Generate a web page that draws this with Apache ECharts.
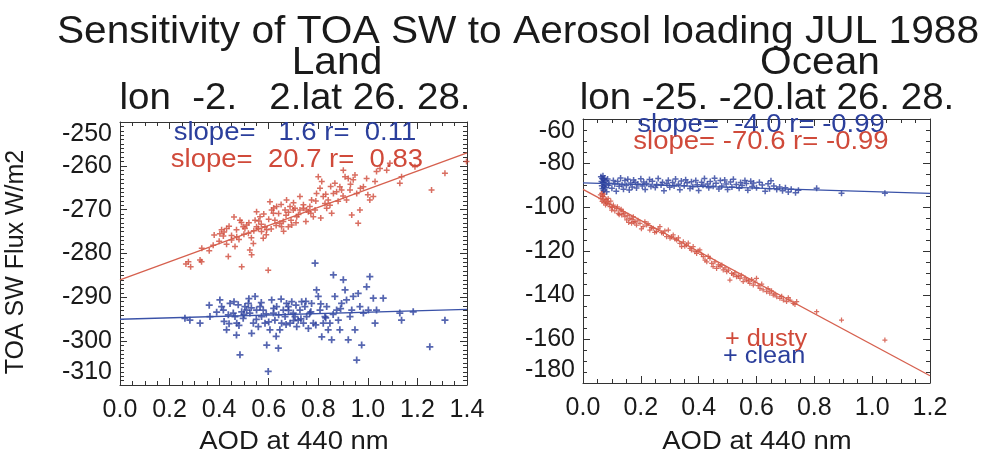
<!DOCTYPE html>
<html>
<head>
<meta charset="utf-8">
<script src="https://cdn.jsdelivr.net/npm/echarts@6/dist/echarts.min.js"></script>
<style>
  html, body { margin: 0; padding: 0; background: #ffffff; }
  #chart { width: 1001px; height: 455px; }
</style>
</head>
<body>
<div id="chart"></div>
<script>
// ---- Land box: lon -2..2, lat 26..28  (AOD at 440 nm, TOA SW flux W/m2)
const landDusty = [
  [0.266,-282.4],[0.285,-283.0],[0.323,-281.5],[0.329,-281.9],[0.276,-281.9],[0.376,-278.1],
  [0.403,-275.5],[0.410,-274.6],[0.417,-276.0],[0.430,-274.3],[0.437,-280.7],[0.450,-276.9],
  [0.464,-278.4],[0.471,-276.2],[0.484,-272.4],[0.491,-283.0],[0.497,-273.9],[0.504,-274.3],
  [0.511,-273.5],[0.518,-275.4],[0.524,-279.2],[0.531,-280.3],[0.538,-277.7],[0.545,-272.4],
  [0.551,-270.5],[0.551,-273.9],[0.558,-274.3],[0.565,-271.6],[0.571,-275.0],[0.578,-276.5],
  [0.585,-273.9],[0.592,-274.6],[0.598,-283.8],[0.605,-268.2],[0.612,-270.1],[0.619,-270.8],
  [0.625,-272.4],[0.632,-269.3],[0.645,-273.1],[0.652,-273.9],[0.659,-272.7],[0.666,-270.1],
  [0.672,-267.8],[0.679,-273.9],[0.686,-269.3],[0.693,-273.5],[0.699,-270.1],[0.706,-269.7],
  [0.713,-271.6],[0.726,-267.0],[0.726,-270.1],[0.740,-269.7],[0.753,-270.1],[0.760,-270.5],
  [0.766,-269.3],[0.773,-267.8],[0.780,-271.6],[0.787,-270.1],[0.793,-266.3],[0.800,-262.5],
  [0.807,-265.1],[0.814,-263.6],[0.820,-267.0],[0.827,-268.6],[0.834,-269.7],[0.840,-267.8],
  [0.847,-269.0],[0.854,-270.8],[0.861,-266.3],[0.867,-264.0],[0.874,-265.9],[0.887,-264.8],
  [0.894,-265.5],[0.901,-261.0],[0.908,-262.5],[0.914,-267.8],[0.921,-262.9],[0.928,-265.5],
  [0.935,-271.2],[0.941,-263.2],[0.948,-262.1],[0.955,-266.3],[0.961,-273.1],[0.968,-270.1],
  [0.982,-264.8],[0.995,-262.9],[1.008,-267.8],[1.022,-267.0],[1.029,-263.6],[1.035,-261.3],
  [1.049,-260.6],[1.076,-261.0],[1.089,-259.4],[1.129,-264.0],[1.136,-262.5],[1.190,-260.2],
  [1.257,-265.5],[1.311,-261.7],[1.398,-259.0],
  [0.38,-275.8],[0.40,-277.2],[0.42,-275.1],[0.44,-273.8],[0.45,-275.9],[0.47,-274.6],
  [0.48,-276.8],[0.49,-272.9],[0.50,-275.6],[0.52,-273.0],[0.53,-276.4],[0.54,-274.8],
  [0.56,-272.6],[0.57,-273.3],[0.58,-271.0],[0.59,-275.7],[0.60,-272.2],[0.61,-274.4],
  [0.62,-269.6],[0.63,-273.6],[0.64,-270.9],[0.65,-268.8],[0.66,-274.9],[0.67,-271.3],
  [0.68,-270.6],[0.69,-272.4],[0.70,-268.4],[0.71,-273.0],[0.72,-271.1],[0.74,-268.9],
  [0.75,-272.7],[0.77,-270.8],[0.79,-268.0],[0.81,-271.9],[0.83,-266.5],[0.85,-264.7],
  [0.88,-268.1],[0.90,-266.9],[0.93,-264.2],[0.97,-265.1],[1.00,-266.6],[0.36,-279.4],
  [0.33,-278.8],[0.46,-271.7],[0.43,-277.9]
];
const landClean = [
  [0.262,-294.8],[0.282,-295.2],[0.323,-295.9],[0.363,-294.4],[0.403,-290.6],[0.410,-292.1],
  [0.417,-292.9],[0.430,-297.4],[0.437,-294.0],[0.444,-291.4],[0.457,-293.6],[0.464,-294.4],
  [0.471,-295.9],[0.477,-291.7],[0.484,-303.1],[0.491,-293.3],[0.497,-294.8],[0.504,-292.1],
  [0.511,-292.9],[0.518,-291.4],[0.524,-293.6],[0.531,-298.2],[0.538,-295.9],[0.545,-289.8],
  [0.551,-292.9],[0.558,-296.7],[0.565,-292.1],[0.571,-294.4],[0.578,-292.9],[0.585,-295.9],
  [0.592,-300.9],[0.598,-306.9],[0.605,-297.4],[0.612,-290.6],[0.619,-293.6],[0.625,-295.2],
  [0.632,-292.1],[0.639,-301.6],[0.645,-297.4],[0.652,-295.9],[0.659,-292.9],[0.666,-294.4],
  [0.672,-291.4],[0.679,-292.1],[0.686,-295.9],[0.693,-291.0],[0.699,-293.6],[0.706,-294.4],
  [0.713,-296.7],[0.719,-295.2],[0.726,-292.9],[0.733,-291.0],[0.740,-295.9],[0.746,-292.1],
  [0.753,-294.4],[0.760,-297.1],[0.766,-293.6],[0.773,-291.4],[0.780,-295.9],[0.787,-282.2],
  [0.793,-288.3],[0.800,-289.8],[0.807,-292.9],[0.814,-299.0],[0.820,-295.9],[0.827,-294.4],
  [0.834,-292.1],[0.840,-297.4],[0.847,-295.9],[0.854,-299.7],[0.861,-284.9],[0.867,-289.8],
  [0.874,-292.9],[0.881,-295.2],[0.887,-297.4],[0.894,-291.4],[0.901,-286.0],[0.908,-288.3],
  [0.914,-290.6],[0.921,-299.7],[0.928,-294.4],[0.935,-292.9],[0.941,-289.8],[0.948,-297.4],
  [0.955,-304.3],[0.961,-289.1],[0.968,-292.1],[0.975,-300.9],[0.982,-293.6],[0.995,-287.6],
  [1.002,-292.9],[1.008,-285.3],[1.022,-290.2],[1.029,-295.9],[1.035,-292.9],[1.062,-290.2],
  [1.129,-293.6],[1.136,-295.2],[1.183,-293.3],[1.250,-301.3],[1.311,-295.2],
  [0.39,-293.4],[0.42,-295.5],[0.46,-291.0],[0.48,-296.4],[0.50,-293.9],[0.53,-292.4],
  [0.55,-295.0],[0.57,-291.2],[0.59,-293.8],[0.60,-295.6],[0.62,-292.5],[0.64,-294.0],
  [0.65,-290.4],[0.67,-296.2],[0.68,-293.0],[0.70,-295.3],[0.71,-291.8],[0.73,-294.9],
  [0.75,-290.9],[0.77,-293.3],[0.79,-296.3],[0.81,-291.5],[0.83,-294.7],[0.86,-293.9],
  [0.89,-292.6],[0.36,-291.8],[0.47,-298.6],[0.63,-298.9],[0.52,-290.3],[0.44,-296.0]
];

// ---- Ocean box: lon -25..-20, lat 26..28
const oceanDusty = [
  [0.065,-93.8],[0.070,-95.3],[0.076,-96.8],[0.070,-93.0],[0.082,-98.3],[0.087,-96.1],
  [0.093,-99.8],[0.099,-101.4],[0.105,-99.1],[0.116,-100.6],[0.122,-102.9],[0.128,-101.4],
  [0.134,-103.6],[0.139,-102.1],[0.145,-104.4],[0.151,-105.9],[0.162,-105.2],[0.168,-107.4],
  [0.174,-104.4],[0.180,-106.7],[0.185,-108.2],[0.197,-107.4],[0.208,-108.9],[0.214,-106.7],
  [0.220,-108.2],[0.231,-110.5],[0.243,-109.7],[0.254,-111.2],[0.266,-108.9],[0.278,-112.0],
  [0.289,-113.5],[0.295,-110.5],[0.301,-114.2],[0.312,-112.7],[0.324,-115.0],[0.335,-116.5],
  [0.341,-118.0],[0.347,-115.8],[0.358,-117.3],[0.370,-118.8],[0.381,-118.0],[0.387,-120.3],
  [0.393,-121.1],[0.404,-119.5],[0.416,-122.6],[0.422,-124.1],[0.428,-124.9],[0.439,-123.3],
  [0.445,-125.6],[0.450,-127.1],[0.462,-127.9],[0.474,-127.1],[0.485,-128.6],[0.497,-129.4],
  [0.508,-133.2],[0.514,-130.2],[0.520,-130.9],[0.531,-131.7],[0.543,-132.4],[0.554,-133.9],
  [0.566,-133.2],[0.577,-134.7],[0.589,-135.5],[0.600,-132.4],[0.612,-137.0],[0.623,-137.7],
  [0.635,-138.5],[0.646,-139.2],[0.658,-140.0],[0.670,-140.8],[0.681,-141.5],[0.693,-142.3],
  [0.704,-143.0],[0.716,-142.3],[0.727,-143.8],[0.739,-143.0],[0.808,-147.6],[0.894,-151.4],
  [1.044,-160.5],
  [0.060,-94.5],[0.062,-96.2],[0.066,-97.4],[0.068,-95.0],[0.072,-98.0],[0.074,-94.2],
  [0.078,-99.1],[0.080,-96.5],[0.085,-97.6],[0.090,-98.7],[0.096,-97.3],[0.102,-100.2],
  [0.110,-101.8],[0.119,-99.9],[0.125,-103.5],[0.132,-101.0],[0.142,-103.0],[0.155,-103.8],
  [0.158,-107.0],[0.170,-105.6],[0.176,-106.9],[0.190,-106.0],[0.202,-109.9],[0.225,-107.6],
  [0.236,-109.3],[0.248,-111.5],[0.260,-110.1],[0.272,-111.7],[0.283,-110.9],[0.306,-113.6],
  [0.318,-114.6],[0.330,-114.0],[0.352,-117.8],[0.364,-116.4],[0.375,-119.6],[0.398,-120.0],
  [0.410,-121.5],[0.433,-122.4],[0.456,-124.9],[0.468,-126.3],[0.480,-126.4],[0.491,-127.7],
  [0.503,-128.7],[0.525,-129.9],[0.537,-131.3],[0.548,-131.0],[0.560,-132.2],[0.572,-133.6],
  [0.583,-132.9],[0.595,-134.2],[0.606,-135.7],[0.618,-135.0],[0.640,-137.1],[0.652,-138.1],
  [0.664,-139.5],[0.687,-140.6],[0.710,-141.2],[0.733,-144.3]
];
const oceanClean = [
  [0.062,-86.2],[0.064,-88.4],[0.065,-90.3],[0.066,-87.1],[0.067,-91.6],[0.068,-89.0],
  [0.069,-85.8],[0.070,-88.9],[0.071,-92.4],[0.072,-87.6],[0.073,-90.8],[0.074,-86.9],
  [0.076,-89.7],[0.078,-91.2],[0.080,-88.1],[0.082,-93.1],[0.085,-87.3],[0.088,-90.1],
  [0.090,-89.2],[0.100,-91.5],[0.105,-87.9],[0.110,-89.6],[0.115,-92.8],[0.120,-88.4],
  [0.125,-90.6],[0.130,-86.8],[0.135,-89.9],[0.140,-91.9],[0.145,-88.0],[0.150,-90.2],
  [0.155,-87.4],[0.160,-92.3],[0.165,-89.1],[0.170,-90.9],[0.175,-87.7],[0.180,-88.8],
  [0.185,-91.4],[0.190,-89.5],[0.200,-87.2],[0.205,-90.4],[0.210,-88.6],[0.215,-92.0],
  [0.220,-89.3],[0.230,-87.5],[0.235,-90.7],[0.240,-88.3],[0.250,-91.1],[0.255,-89.8],
  [0.260,-87.0],[0.270,-90.0],[0.275,-88.7],[0.280,-92.6],[0.290,-89.4],[0.295,-87.8],
  [0.300,-91.0],[0.310,-88.9],[0.315,-90.5],[0.320,-87.3],[0.330,-89.7],[0.335,-92.2],
  [0.340,-88.2],[0.350,-90.3],[0.355,-87.6],[0.360,-89.0],[0.370,-91.6],[0.375,-88.5],
  [0.380,-90.8],[0.390,-87.9],[0.395,-89.9],[0.400,-92.5],[0.410,-88.8],[0.415,-90.1],
  [0.420,-87.1],[0.430,-89.6],[0.435,-91.3],[0.440,-88.4],[0.450,-90.6],[0.455,-86.9],
  [0.460,-89.2],[0.470,-91.8],[0.475,-88.0],[0.480,-90.4],[0.490,-87.7],[0.495,-89.5],
  [0.500,-92.1],[0.510,-88.6],[0.515,-90.9],[0.520,-87.4],[0.530,-89.8],[0.540,-91.5],
  [0.545,-88.9],[0.550,-90.2],[0.560,-87.9],[0.565,-89.3],[0.570,-92.4],[0.580,-88.3],
  [0.585,-90.7],[0.590,-89.1],[0.600,-91.2],[0.610,-88.7],[0.620,-90.0],[0.630,-92.8],
  [0.640,-89.4],[0.645,-91.7],[0.650,-88.1],[0.660,-90.5],[0.670,-92.0],[0.680,-90.9],
  [0.690,-92.6],[0.700,-91.3],[0.710,-93.2],[0.720,-91.9],[0.735,-93.5],[0.745,-92.4],
  [0.808,-91.5],[0.894,-93.8],[1.044,-93.8]
];

// Regression results per panel, order: [clean, dusty]
const landSlope = [1.6, 20.7];
const landIntercept = [-295.0, -286.0];
const landR = [0.11, 0.83];
const oceanSlope = [-4.0, -70.6];
const oceanIntercept = [-89.0, -92.0];
const oceanR = [-0.99, -0.99];

// Axis ranges [min, max, interval]
const landX = [0, 1.4, 0.2];
const landY = [-310, -250, 10];
const oceanX = [0, 1.2, 0.2];
const oceanY = [-180, -60, 20];

const RED = '#d04a3a';
const BLUE = '#2b3f9c';
const INK = '#1a1a1a';
const FONT = "'Liberation Sans', Arial, sans-serif";
const PLUS = 'path://M3,0H5V3H8V5H5V8H3V5H0V3H3Z';

function pad(s, n) { while (s.length < n) s = ' ' + s; return s; }
function statText(slope, r) {
  return 'slope=' + pad(slope.toFixed(1), 6) + ' r=' + pad(r.toFixed(2), 6);
}
function fitLine(slope, icpt, xr) {
  return [[xr[0], icpt + slope * xr[0]], [xr[1], icpt + slope * xr[1]]];
}

const tickColor = '#333';
function xAxisPair(gridIndex, r) {
  const base = {
    type: 'value', gridIndex: gridIndex, min: r[0], max: r[1], interval: r[2],
    axisLine: { show: true, onZero: false, lineStyle: { color: tickColor, width: 1 } },
    axisTick: { show: true, inside: true, length: 7, lineStyle: { color: tickColor } },
    minorTick: { show: true, splitNumber: 4, length: 4, lineStyle: { color: tickColor } },
    splitLine: { show: false }, minorSplitLine: { show: false }
  };
  return [
    Object.assign({}, base, {
      position: 'bottom',
      axisLabel: { show: true, margin: 13, color: INK, fontFamily: FONT, fontSize: 25,
                   formatter: v => v.toFixed(1) }
    }),
    Object.assign({}, base, { position: 'top', axisLabel: { show: false } })
  ];
}
function yAxisPair(gridIndex, r, minorSplit) {
  const base = {
    type: 'value', gridIndex: gridIndex, min: r[0], max: r[1], interval: r[2],
    axisLine: { show: true, onZero: false, lineStyle: { color: tickColor, width: 1 } },
    axisTick: { show: true, inside: true, length: 7, lineStyle: { color: tickColor } },
    minorTick: { show: true, splitNumber: minorSplit, length: 4, lineStyle: { color: tickColor } },
    splitLine: { show: false }, minorSplitLine: { show: false }
  };
  return [
    Object.assign({}, base, {
      position: 'left',
      axisLabel: { show: true, margin: 8, color: INK, fontFamily: FONT, fontSize: 25,
                   verticalAlignMaxLabel: 'top', verticalAlignMinLabel: 'bottom',
                   formatter: v => String(Math.round(v)) }
    }),
    Object.assign({}, base, { position: 'right', axisLabel: { show: false } })
  ];
}

function label(text, x, y, size, color, opts) {
  opts = opts || {};
  return {
    type: 'text', x: x, y: y, scaleX: opts.sx || 1.1, scaleY: opts.sy || 1,
    rotation: opts.rot || 0, z: 100,
    style: { text: text, x: 0, y: 0, fill: color, fontFamily: FONT, fontSize: size,
             align: opts.align || 'center', verticalAlign: 'middle' }
  };
}

const scatterStyle = (color, size) => ({
  type: 'scatter', symbol: PLUS, symbolSize: size, itemStyle: { color: color },
  emphasis: { disabled: true }, z: 2
});
const fitStyle = (color) => ({
  type: 'line', showSymbol: false, symbol: 'none', z: 3,
  lineStyle: { color: color, width: 1.3 }, emphasis: { disabled: true }
});

const option = {
  animation: false,
  backgroundColor: '#ffffff',
  grid: [
    { left: 120, top: 122, width: 347, height: 263, containLabel: false, outerBoundsMode: 'none' },
    { left: 583, top: 119, width: 347, height: 264, containLabel: false, outerBoundsMode: 'none' }
  ],
  xAxis: [].concat(xAxisPair(0, landX), xAxisPair(1, oceanX)),
  yAxis: [].concat(yAxisPair(0, landY, 10), yAxisPair(1, oceanY, 4)),
  series: [
    Object.assign(scatterStyle(RED, 6), { name: 'dusty', xAxisIndex: 0, yAxisIndex: 0, data: landDusty }),
    Object.assign(scatterStyle(BLUE, 7), { name: 'clean', xAxisIndex: 0, yAxisIndex: 0, data: landClean }),
    Object.assign(fitStyle('#d6604e'), { xAxisIndex: 0, yAxisIndex: 0,
      data: fitLine(landSlope[1], landIntercept[1], landX) }),
    Object.assign(fitStyle('#3a52a8'), { xAxisIndex: 0, yAxisIndex: 0,
      data: fitLine(landSlope[0], landIntercept[0], landX) }),
    Object.assign(scatterStyle(RED, 5), { name: 'dusty', xAxisIndex: 2, yAxisIndex: 2, data: oceanDusty }),
    Object.assign(scatterStyle(BLUE, 6), { name: 'clean', xAxisIndex: 2, yAxisIndex: 2, data: oceanClean }),
    Object.assign(fitStyle('#d6604e'), { xAxisIndex: 2, yAxisIndex: 2,
      data: fitLine(oceanSlope[1], oceanIntercept[1], oceanX) }),
    Object.assign(fitStyle('#3a52a8'), { xAxisIndex: 2, yAxisIndex: 2,
      data: fitLine(oceanSlope[0], oceanIntercept[0], oceanX) })
  ],
  graphic: [
    label('Sensitivity of TOA SW to Aerosol loading JUL 1988', 518, 32, 37, INK, { sx: 1.1, sy: 1.04 }),
    label('Land', 337, 63, 37, INK, { sy: 1.04 }),
    label('Ocean', 820, 63, 37, INK, { sy: 1.04 }),
    label('lon  -2.   2.lat 26. 28.', 295, 99, 35, INK, { sy: 1.04 }),
    label('lon -25. -20.lat 26. 28.', 767, 99, 35, INK, { sy: 1.04 }),
    label('TOA SW Flux W/m2', 16, 262, 25, INK, { rot: Math.PI / 2, sx: 1 }),
    label('AOD at 440 nm', 294, 442, 25, INK),
    label('AOD at 440 nm', 757, 442, 25, INK),
    label(statText(landSlope[0], landR[0]), 295, 133, 25, BLUE),
    label(statText(landSlope[1], landR[1]), 297, 160, 25, RED),
    label(statText(oceanSlope[0], oceanR[0]), 761, 125, 25, BLUE),
    label(statText(oceanSlope[1], oceanR[1]), 761, 142, 25, RED),
    label('+ dusty', 725, 340, 23, RED, { align: 'left' }),
    label('+ clean', 723, 357, 23, BLUE, { align: 'left' })
  ]
};

const chart = echarts.init(document.getElementById('chart'), null, { renderer: 'canvas' });
chart.setOption(option);
</script>
</body>
</html>
